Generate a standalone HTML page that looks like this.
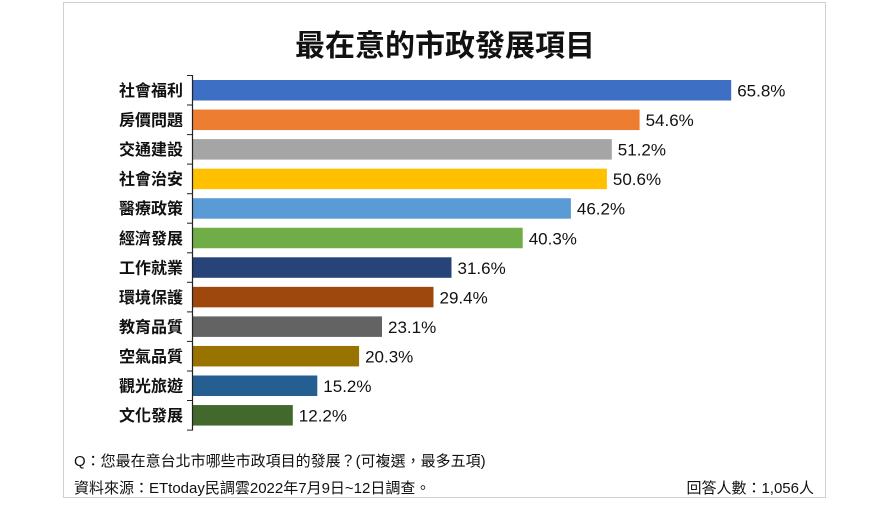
<!DOCTYPE html>
<html><head><meta charset="utf-8"><style>
body{margin:0;width:890px;height:500px;background:#fff;overflow:hidden;}
</style></head><body>
<svg width="890" height="500" xmlns="http://www.w3.org/2000/svg" font-family="Liberation Sans, Noto Sans CJK TC, sans-serif">
<rect x="63.5" y="2.5" width="762" height="495" fill="#fff" stroke="#d0d0d0"/>
<text x="445" y="56" text-anchor="middle" font-size="30" font-weight="bold" fill="#111">最在意的市政發展項目</text>
<g>
<rect x="193" y="80" width="538.2" height="20.5" fill="#3D6FC4"/>
<rect x="193" y="109.55" width="446.6" height="20.5" fill="#ED7D31"/>
<rect x="193" y="139.1" width="418.8" height="20.5" fill="#A5A5A5"/>
<rect x="193" y="168.65" width="413.9" height="20.5" fill="#FFC000"/>
<rect x="193" y="198.2" width="377.9" height="20.5" fill="#5B9BD5"/>
<rect x="193" y="227.75" width="329.7" height="20.5" fill="#70AD47"/>
<rect x="193" y="257.3" width="258.5" height="20.5" fill="#264478"/>
<rect x="193" y="286.85" width="240.5" height="20.5" fill="#9E480E"/>
<rect x="193" y="316.4" width="189.0" height="20.5" fill="#636363"/>
<rect x="193" y="345.95" width="166.1" height="20.5" fill="#997300"/>
<rect x="193" y="375.5" width="124.3" height="20.5" fill="#255E91"/>
<rect x="193" y="405.05" width="99.8" height="20.5" fill="#43682B"/>
</g>
<g font-size="16" font-weight="bold" fill="#111" text-anchor="end">
<text x="183" y="96">社會福利</text>
<text x="183" y="125.55">房價問題</text>
<text x="183" y="155.1">交通建設</text>
<text x="183" y="184.65">社會治安</text>
<text x="183" y="214.2">醫療政策</text>
<text x="183" y="243.75">經濟發展</text>
<text x="183" y="273.3">工作就業</text>
<text x="183" y="302.85">環境保護</text>
<text x="183" y="332.4">教育品質</text>
<text x="183" y="361.95">空氣品質</text>
<text x="183" y="391.5">觀光旅遊</text>
<text x="183" y="421.05">文化發展</text>
</g>
<g font-size="17" fill="#111">
<text x="737.2" y="96.5">65.8%</text>
<text x="645.6" y="126.05">54.6%</text>
<text x="617.8" y="155.6">51.2%</text>
<text x="612.9" y="185.15">50.6%</text>
<text x="576.9" y="214.7">46.2%</text>
<text x="528.7" y="244.25">40.3%</text>
<text x="457.5" y="273.8">31.6%</text>
<text x="439.5" y="303.35">29.4%</text>
<text x="388.0" y="332.9">23.1%</text>
<text x="365.1" y="362.45">20.3%</text>
<text x="323.3" y="392">15.2%</text>
<text x="298.8" y="421.55">12.2%</text>
</g>
<g stroke="#222">
<line x1="187" y1="75.5" x2="193" y2="75.5"/>
<line x1="187" y1="105" x2="193" y2="105"/>
<line x1="187" y1="134.6" x2="193" y2="134.6"/>
<line x1="187" y1="164.1" x2="193" y2="164.1"/>
<line x1="187" y1="193.7" x2="193" y2="193.7"/>
<line x1="187" y1="223.2" x2="193" y2="223.2"/>
<line x1="187" y1="252.8" x2="193" y2="252.8"/>
<line x1="187" y1="282.3" x2="193" y2="282.3"/>
<line x1="187" y1="311.9" x2="193" y2="311.9"/>
<line x1="187" y1="341.4" x2="193" y2="341.4"/>
<line x1="187" y1="371" x2="193" y2="371"/>
<line x1="187" y1="400.5" x2="193" y2="400.5"/>
<line x1="187" y1="430.1" x2="193" y2="430.1"/>
</g>
<line x1="192.5" y1="75.5" x2="192.5" y2="430.1" stroke="#222" stroke-width="1.2"/>
<text x="74" y="466" font-size="15" fill="#111">Q：您最在意台北市哪些市政項目的發展？(可複選，最多五項)</text>
<text x="74" y="493" font-size="15" fill="#111">資料來源：ETtoday民調雲2022年7月9日~12日調查。</text>
<text x="814" y="493" font-size="15" fill="#111" text-anchor="end">回答人數：1,056人</text>
</svg>
</body></html>
